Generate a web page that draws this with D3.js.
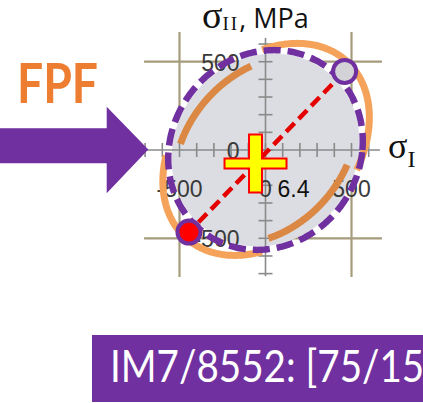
<!DOCTYPE html>
<html>
<head>
<meta charset="utf-8">
<script src="https://cdn.jsdelivr.net/npm/d3@7"></script>
<style>
  html, body { margin: 0; padding: 0; background: #fff; }
  svg { display: block; }
</style>
</head>
<body>
<svg id="chart" width="423" height="403"></svg>
<script>
// ---------------- data ----------------
const xTickValues = [-700, -600, -500, -400, -300, -200, -100, 0, 100, 200, 300, 400, 500, 600];
const yTickValues = [600, 500, 400, 300, 200, 100, 0, -100, -200, -300, -400, -500, -600, -700];
const xTickLabels = [-500, 0, 500];
const yTickLabels = [500, 0, -500];
const gridValues = [-500, 500];
const axisExtentX = [-700, 665];
const axisExtentY = [-715, 635];
const gridExtentX = [-706, 677];
const gridExtentY = [-719, 668];

// failure envelope (purple dashed) in MPa: semi-axes and orientation
const envelopeA = 590, envelopeB = 540, envelopeRot = 45;
// orange (other criterion) arcs: polar angle ranges and semi-axes in MPa
const orangeFrom = [-12, 100, 183, 272];
const orangeTo   = [92, 176, 268, 350];
const orangeA    = [690, 600, 680, 600];
const orangeB    = [503, 445, 500, 445];

// load points (sigma_I, sigma_II)
const pointNames = ["upper", "lower"];
const pointX = [460, -445];
const pointY = [445, -465];
// cross marker
const crossX = -58, crossY = -76;
const valueLabel = "6.4";
const boxLabel = "IM7/8552: [75/15]";

// ---------------- drawing ----------------
const svg = d3.select("#chart");
const x = d3.scaleLinear().domain([-500, 500]).range([179.5, 351.5]);
const y = d3.scaleLinear().domain([-500, 500]).range([238.3, 61.7]);

function ellipsePts(A, B, rot, from, to) {
  return d3.range(from, to + 0.001, 1).map(t => {
    const th = t * Math.PI / 180, ph = (t - rot) * Math.PI / 180;
    const r = 1 / Math.sqrt(Math.cos(ph) ** 2 / (A * A) + Math.sin(ph) ** 2 / (B * B));
    return [r * Math.cos(th), r * Math.sin(th)];
  });
}
const line = d3.line().x(d => x(d[0])).y(d => y(d[1]));
const closedLine = d3.line().x(d => x(d[0])).y(d => y(d[1])).curve(d3.curveLinearClosed);

// grid
const grid = svg.append("g");
grid.selectAll("line.v").data(gridValues).join("line")
  .attr("x1", d => x(d)).attr("x2", d => x(d))
  .attr("y1", y(gridExtentY[1])).attr("y2", y(gridExtentY[0]))
  .attr("stroke", "#a59c7c").attr("stroke-width", 2.2);
grid.selectAll("line.h").data(gridValues).join("line")
  .attr("y1", d => y(d)).attr("y2", d => y(d))
  .attr("x1", x(gridExtentX[0])).attr("x2", x(gridExtentX[1]))
  .attr("stroke", "#a59c7c").attr("stroke-width", 2.2);

// gray fill
svg.append("path")
  .attr("d", closedLine(ellipsePts(envelopeA * 0.965, envelopeB * 0.965, envelopeRot, 0, 359)))
  .attr("fill", "#dcdde2");

// axes
const axisCol = "#8a8a8a";
const ax = svg.append("g");
ax.append("line").attr("x1", x(axisExtentX[0])).attr("x2", x(axisExtentX[1]))
  .attr("y1", y(0)).attr("y2", y(0)).attr("stroke", axisCol).attr("stroke-width", 1.6);
ax.append("line").attr("y1", y(axisExtentY[0])).attr("y2", y(axisExtentY[1]))
  .attr("x1", x(0)).attr("x2", x(0)).attr("stroke", axisCol).attr("stroke-width", 1.6);
ax.selectAll("line.xt").data(xTickValues).join("line")
  .attr("x1", d => x(d)).attr("x2", d => x(d))
  .attr("y1", y(0) - 7).attr("y2", y(0) + 7)
  .attr("stroke", axisCol).attr("stroke-width", 1.6);
ax.selectAll("line.yt").data(yTickValues).join("line")
  .attr("y1", d => y(d)).attr("y2", d => y(d))
  .attr("x1", x(0) - 7).attr("x2", x(0) + 7)
  .attr("stroke", axisCol).attr("stroke-width", 1.6);

// tick labels
const tickFont = "'Liberation Sans', Arial, sans-serif";
ax.selectAll("text.xl").data(xTickLabels).join("text")
  .attr("x", d => x(d)).attr("y", y(0) + 47)
  .attr("text-anchor", "middle").attr("font-family", tickFont).attr("font-size", 23)
  .attr("fill", "#3a3a3a").text(d => d);
ax.selectAll("text.yl").data(yTickLabels).join("text")
  .attr("x", x(0) - 26).attr("y", d => y(d) + 9)
  .attr("text-anchor", "end").attr("font-family", tickFont).attr("font-size", 23)
  .attr("fill", "#3a3a3a").text(d => d);

// orange arcs
const arcs = orangeFrom.map((f, i) => ({ from: f, to: orangeTo[i], A: orangeA[i], B: orangeB[i] }));
svg.append("g").selectAll("path").data(arcs).join("path")
  .attr("d", d => line(ellipsePts(d.A, d.B, envelopeRot, d.from, d.to)))
  .attr("fill", "none")
  .attr("stroke", d => d.A < 650 ? "#da8843" : "#f5a35a")
  .attr("stroke-width", 7);

// purple dashed envelope
svg.append("path")
  .attr("d", closedLine(ellipsePts(envelopeA, envelopeB, envelopeRot, 0, 359)))
  .attr("fill", "none").attr("stroke", "#7030a0").attr("stroke-width", 6.5)
  .attr("stroke-dasharray", "17 7");

// red dashed load line
svg.append("line")
  .attr("x1", x(pointX[0])).attr("y1", y(pointY[0]))
  .attr("x2", x(pointX[1])).attr("y2", y(pointY[1]))
  .attr("stroke", "#e50000").attr("stroke-width", 4.5).attr("stroke-dasharray", "12 6");

// points
svg.append("g").selectAll("circle").data(pointNames).join("circle")
  .attr("cx", (d, i) => x(pointX[i])).attr("cy", (d, i) => y(pointY[i]))
  .attr("r", 11.5)
  .attr("fill", d => d === "upper" ? "#d3d3d7" : "#ff0000")
  .attr("stroke", "#7030a0").attr("stroke-width", 4);

// yellow cross
const cx = x(crossX), cy = y(crossY);
const vw = 6.5, vh = 29, hw = 31, hh = 5;
svg.append("path")
  .attr("d", `M${cx - vw},${cy - vh} H${cx + vw} V${cy - hh} H${cx + hw} V${cy + hh} H${cx + vw} V${cy + vh} H${cx - vw} V${cy + hh} H${cx - hw} V${cy - hh} H${cx - vw} Z`)
  .attr("fill", "#ffff00").attr("stroke", "#ff0000").attr("stroke-width", 2);

// value label
svg.append("text").attr("x", x(0) + 12).attr("y", y(0) + 47)
  .attr("font-family", tickFont).attr("font-size", 23).attr("fill", "#111")
  .text(valueLabel);

// axis titles
const title = svg.append("text").attr("x", 202).attr("y", 28).attr("fill", "#111");
title.append("tspan").attr("font-family", "'Liberation Serif', serif").attr("font-size", 38).text("σ");
title.append("tspan").attr("font-family", "'Liberation Serif', serif").attr("font-size", 19)
  .attr("letter-spacing", 2).attr("dy", 2).text("II");
title.append("tspan").attr("font-family", "'Open Sans', sans-serif").attr("font-size", 27)
  .attr("dy", -2).text(", MPa");

const t2 = svg.append("text").attr("x", 388).attr("y", 158).attr("fill", "#111");
t2.append("tspan").attr("font-family", "'Liberation Serif', serif").attr("font-size", 36).text("σ");
t2.append("tspan").attr("font-family", "'Liberation Serif', serif").attr("font-size", 24).attr("dy", 9).text("I");

// FPF + arrow
svg.append("text").attr("x", 17).attr("y", 103)
  .attr("font-family", "Lato, 'Open Sans', sans-serif").attr("font-weight", "bold")
  .attr("font-size", 55).attr("fill", "#ed7d31")
  .attr("textLength", 81).attr("lengthAdjust", "spacingAndGlyphs").text("FPF");
svg.append("path")
  .attr("d", "M0,128.3 H106.7 V106.7 L148.3,149.5 L106.7,193.3 V163.3 H0 Z")
  .attr("fill", "#7030a0");

// bottom label box
svg.append("rect").attr("x", 92).attr("y", 335).attr("width", 340).attr("height", 67)
  .attr("fill", "#7030a0");
svg.append("text").attr("x", 110).attr("y", 381.5)
  .attr("font-family", "Lato, 'Open Sans', sans-serif").attr("font-size", 44).attr("fill", "#fff")
  .attr("textLength", 326).attr("lengthAdjust", "spacingAndGlyphs").text(boxLabel);
</script>
</body>
</html>
